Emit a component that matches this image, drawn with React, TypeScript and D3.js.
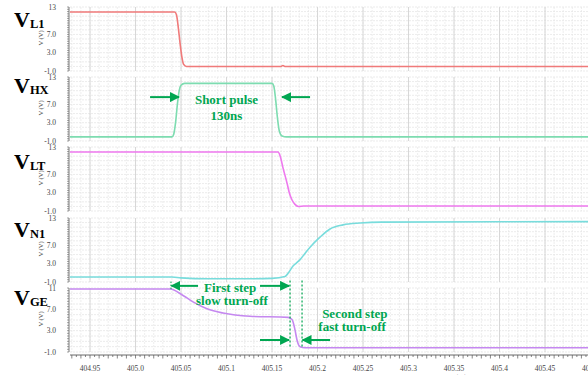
import React, { useRef, useEffect } from 'react';
import * as d3 from 'd3';

const W = 588;
const H = 375;

// time axis (us)
const timeTicks = [404.95, 405.0, 405.05, 405.1, 405.15, 405.2, 405.25, 405.3, 405.35, 405.4, 405.45, 405.5];
const timeTickLabels = ['404.95', '405.0', '405.05', '405.1', '405.15', '405.2', '405.25', '405.3', '405.35', '405.4', '405.45', '405.5'];

// panel labels (main letter + subscript)
const panelLetters = ['V', 'V', 'V', 'V', 'V'];
const panelSubs = ['L1', 'HX', 'LT', 'N1', 'GE'];
const panelColors = ['#f07a7a', '#7ddcb0', '#ee78ee', '#78dcdc', '#c588f0'];

// y ticks per panel
const yTicksA = [13, 7, 3, -1];
const yTickLabelsA = ['13', '7.0', '3.0', '-1.0'];
const yTicksGE = [11, 7, 3, -1];
const yTickLabelsGE = ['11', '7.0', '3.0', '-1.0'];

// waveforms: [time (us), volts]
const vL1: [number, number][] = [
  [404.928, 11.9], [405.043, 11.9], [405.045, 11.3], [405.047, 8.5], [405.049, 5],
  [405.051, 2], [405.053, 0.4], [405.056, 0], [405.16, 0], [405.162, 0.2], [405.164, 0], [405.5, 0],
];
const vHX: [number, number][] = [
  [404.928, -0.1], [405.040, -0.1], [405.042, 0.5], [405.044, 3], [405.046, 7], [405.048, 10],
  [405.050, 11.2], [405.054, 11.6], [405.150, 11.6], [405.152, 11], [405.154, 8], [405.156, 4],
  [405.158, 1.2], [405.161, 0.1], [405.166, -0.1], [405.5, -0.1],
];
const vLT: [number, number][] = [
  [404.928, 11.9], [405.1566, 11.9], [405.159, 11], [405.162, 8.5], [405.1665, 5.1], [405.169, 3],
  [405.172, 1.4], [405.175, 0.5], [405.179, 0], [405.185, 0.1], [405.5, 0.1],
];
const vN1: [number, number][] = [
  [404.928, 0.1], [405.04, 0.1], [405.05, -0.1], [405.08, -0.3], [405.12, -0.3], [405.15, -0.2],
  [405.1643, 0.2], [405.168, 1.0], [405.1731, 2.5], [405.177, 3.2], [405.1808, 3.9], [405.186, 5.2],
  [405.1918, 6.6], [405.2027, 8.8], [405.2137, 10.6], [405.228, 11.5], [405.2467, 11.9],
  [405.27, 12.1], [405.5, 12.2],
];
const vGE: [number, number][] = [
  [404.928, 10.8], [405.0379, 10.8], [405.0522, 9.6], [405.0632, 8.4], [405.0786, 7.1],
  [405.0962, 6.3], [405.1258, 5.7], [405.1676, 5.5], [405.172, 5.1], [405.1753, 3.1],
  [405.1775, 1.2], [405.1808, 0], [405.1863, -0.2], [405.5, -0.2],
];
const series = [vL1, vHX, vLT, vN1, vGE];

// annotations in data units: panel, time, volts
const arrows = [
  { panel: 1, from: 405.016, to: 405.0478, v: 8.6 },
  { panel: 1, from: 405.1918, to: 405.161, v: 8.6 },
  { panel: 4, from: 405.0687, to: 405.0395, v: 11.4 },
  { panel: 4, from: 405.1368, to: 405.1687, v: 11.4 },
  { panel: 4, from: 405.1368, to: 405.1687, v: 1.25 },
  { panel: 4, from: 405.2138, to: 405.1835, v: 1.25 },
];
const dottedTimes = [405.1698, 405.183];
const notes = [
  { panel: 1, t: 405.1, v: 7.2, text: 'Short pulse' },
  { panel: 1, t: 405.1, v: 3.7, text: '130ns' },
  { panel: 4, t: 405.104, v: 10.3, text: 'First step' },
  { panel: 4, t: 405.106, v: 7.9, text: 'slow turn-off' },
  { panel: 4, t: 405.241, v: 5.3, text: 'Second step' },
  { panel: 4, t: 405.238, v: 3.0, text: 'fast turn-off' },
];

const App = () => {
  const svgRef = useRef<SVGSVGElement | null>(null);

  useEffect(() => {
    const svg = d3.select(svgRef.current);
    svg.selectAll('*').remove();

    const plotLeft = 70;
    const plotRight = 592;
    const panelTops = [7, 77, 147, 218, 288];
    const panelH = 64;
    const green = '#00a651';

    const x = d3.scaleLinear().domain([404.928, 405.5]).range([plotLeft, plotLeft + 0.572 * 910]);

    const yScales = panelTops.map((top, i) =>
      d3.scaleLinear().domain(i === 4 ? [-1, 11] : [-1, 13]).range([top + panelH, top])
    );

    const defs = svg.append('defs');
    defs.append('marker')
      .attr('id', 'arrowhead')
      .attr('viewBox', '0 0 10 10')
      .attr('refX', 9).attr('refY', 5)
      .attr('markerWidth', 5).attr('markerHeight', 5)
      .attr('markerUnits', 'strokeWidth')
      .attr('orient', 'auto')
      .append('path').attr('d', 'M0,0 L10,5 L0,10 z').attr('fill', green);

    const minorT = d3.range(404.93, 405.5001, 0.01);
    const rulerT = d3.range(404.93, 405.5001, 0.005);

    panelTops.forEach((top, i) => {
      const y = yScales[i];
      const g = svg.append('g');
      const [lo, hi] = y.domain();

      // horizontal grid
      g.selectAll('.hgrid')
        .data(d3.range(lo, hi + 0.01, 1))
        .enter().append('line')
        .attr('x1', plotLeft).attr('x2', plotRight)
        .attr('y1', d => y(d)).attr('y2', d => y(d))
        .attr('stroke', '#e3e3e3').attr('stroke-width', 0.7)
        .attr('stroke-dasharray', '2,1');

      // vertical grid
      g.selectAll('.vminor')
        .data(minorT)
        .enter().append('line')
        .attr('x1', d => x(d)).attr('x2', d => x(d))
        .attr('y1', top).attr('y2', top + panelH)
        .attr('stroke', '#e6e6e6').attr('stroke-width', 0.7)
        .attr('stroke-dasharray', '2,1');
      g.selectAll('.vmajor')
        .data(timeTicks)
        .enter().append('line')
        .attr('x1', d => x(d)).attr('x2', d => x(d))
        .attr('y1', top).attr('y2', top + panelH)
        .attr('stroke', '#d4d4d4').attr('stroke-width', 0.9);

      // left ruler
      g.append('line')
        .attr('x1', 69).attr('x2', 69)
        .attr('y1', top).attr('y2', top + panelH)
        .attr('stroke', '#555').attr('stroke-width', 0.8);
      g.selectAll('.rtick')
        .data(d3.range(lo, hi + 0.01, 0.5))
        .enter().append('line')
        .attr('x1', 67).attr('x2', 69)
        .attr('y1', d => y(d)).attr('y2', d => y(d))
        .attr('stroke', '#666').attr('stroke-width', 0.6);

      const ticks = i === 4 ? yTicksGE : yTicksA;
      const labels = i === 4 ? yTickLabelsGE : yTickLabelsA;
      g.selectAll('.ylab')
        .data(ticks)
        .enter().append('text')
        .attr('x', 56)
        .attr('y', d => y(d) + 2.5)
        .attr('text-anchor', 'end')
        .style('font-family', 'Liberation Serif, serif')
        .style('font-size', '7.5px')
        .style('fill', '#444')
        .text((d, k) => labels[k]);

      g.append('text')
        .attr('transform', `translate(43,${top + 31}) rotate(-90)`)
        .attr('text-anchor', 'middle')
        .style('font-family', 'Liberation Serif, serif')
        .style('font-size', '6.5px')
        .style('fill', '#444')
        .text('V (V)');

      // waveform
      const line = d3.line<[number, number]>()
        .x(d => x(d[0]))
        .y(d => y(d[1]))
        .curve(d3.curveMonotoneX);
      g.append('path')
        .datum(series[i])
        .attr('d', line)
        .attr('fill', 'none')
        .attr('stroke', panelColors[i])
        .attr('stroke-width', 1.6);

      // panel name
      const name = svg.append('text')
        .attr('x', 14)
        .attr('y', [27, 93, 169, 237, 305][i])
        .style('font-family', 'Liberation Serif, serif')
        .style('font-weight', 'bold')
        .style('fill', '#000');
      name.append('tspan').style('font-size', '22px').text(panelLetters[i]);
      name.append('tspan').attr('dy', 1).style('font-size', '12.5px').text(panelSubs[i]);
    });

    // bottom time axis
    const axisY = 355;
    svg.append('line')
      .attr('x1', plotLeft).attr('x2', plotRight)
      .attr('y1', axisY).attr('y2', axisY)
      .attr('stroke', '#444').attr('stroke-width', 0.8);
    svg.selectAll('.xtick')
      .data(rulerT)
      .enter().append('line')
      .attr('x1', d => x(d)).attr('x2', d => x(d))
      .attr('y1', axisY)
      .attr('y2', (d, k) => axisY + (k % 2 === 0 ? 3.5 : 2))
      .attr('stroke', '#555').attr('stroke-width', 0.7);
    svg.selectAll('.xlab')
      .data(timeTicks)
      .enter().append('text')
      .attr('x', d => x(d))
      .attr('y', 371)
      .attr('text-anchor', 'middle')
      .style('font-family', 'Liberation Serif, serif')
      .style('font-size', '7.5px')
      .style('fill', '#444')
      .text((d, k) => timeTickLabels[k]);
    svg.append('text')
      .attr('x', x(405.35))
      .attr('y', 379)
      .attr('text-anchor', 'middle')
      .style('font-family', 'Liberation Serif, serif')
      .style('font-size', '7px')
      .style('fill', '#444')
      .text('time (us)');

    // annotations
    const ann = svg.append('g');
    ann.selectAll('.arrow')
      .data(arrows)
      .enter().append('line')
      .attr('x1', d => x(d.from)).attr('x2', d => x(d.to))
      .attr('y1', d => yScales[d.panel](d.v)).attr('y2', d => yScales[d.panel](d.v))
      .attr('stroke', green).attr('stroke-width', 2)
      .attr('marker-end', 'url(#arrowhead)');

    ann.selectAll('.dotted')
      .data(dottedTimes)
      .enter().append('line')
      .attr('x1', d => x(d)).attr('x2', d => x(d))
      .attr('y1', yScales[4](12.4)).attr('y2', yScales[4](-0.3))
      .attr('stroke', green).attr('stroke-width', 1.2)
      .attr('stroke-dasharray', '2,2');
    ann.append('line')
      .attr('x1', x(405.0390)).attr('x2', x(405.0390))
      .attr('y1', yScales[4](12.2)).attr('y2', yScales[4](10.6))
      .attr('stroke', green).attr('stroke-width', 1)
      .attr('stroke-dasharray', '1.5,1.5');

    ann.selectAll('.note')
      .data(notes)
      .enter().append('text')
      .attr('x', d => x(d.t))
      .attr('y', d => yScales[d.panel](d.v))
      .attr('text-anchor', 'middle')
      .style('font-family', 'Liberation Serif, serif')
      .style('font-weight', 'bold')
      .style('font-size', '13px')
      .style('fill', green)
      .text(d => d.text);
  }, []);

  return (
    <svg ref={svgRef} width={W} height={H} style={{ position: 'absolute', left: 0, top: 0, background: '#fff' }} />
  );
};

export default App;
